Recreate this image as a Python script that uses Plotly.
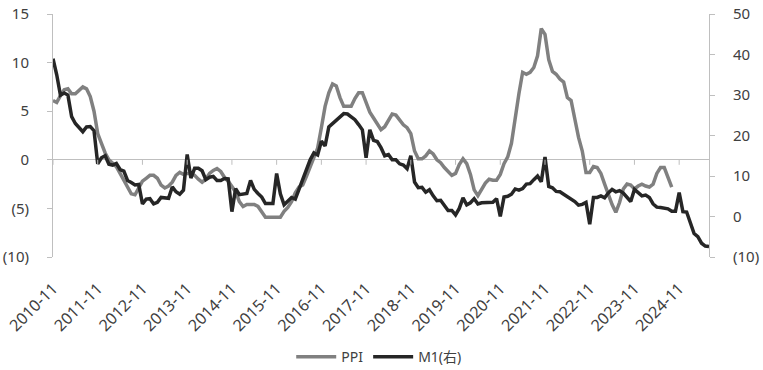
import pandas as pd
import plotly.graph_objects as go

# ---- data ----
months = list(pd.period_range("2010-11", periods=177, freq="M").strftime("%Y-%m"))

ppi = [
    6.1, 5.9,
    6.6, 7.2, 7.3, 6.8, 6.8, 7.1, 7.5, 7.3, 6.5, 5.0, 2.7, 1.7,
    0.7, 0.0, -0.3, -0.7, -1.4, -2.1, -2.9, -3.5, -3.6, -2.8, -2.2, -1.9,
    -1.6, -1.6, -1.9, -2.6, -2.9, -2.7, -2.3, -1.6, -1.3, -1.5, -1.4, -1.4,
    -1.6, -2.0, -2.3, -2.0, -1.4, -1.1, -0.9, -1.2, -1.8, -2.2, -2.7, -3.3,
    -4.3, -4.8, -4.6, -4.6, -4.6, -4.8, -5.4, -5.9, -5.9, -5.9, -5.9, -5.9,
    -5.3, -4.9, -4.3, -3.4, -2.8, -2.6, -1.7, -0.8, 0.1, 1.2, 3.3, 5.5,
    6.9, 7.8, 7.6, 6.4, 5.5, 5.5, 5.5, 6.3, 6.9, 6.9, 5.8, 4.9,
    4.3, 3.7, 3.1, 3.4, 4.1, 4.7, 4.6, 4.1, 3.6, 3.3, 2.7, 0.9,
    0.1, 0.1, 0.4, 0.9, 0.6, 0.0, -0.3, -0.8, -1.2, -1.6, -1.4, -0.5,
    0.1, -0.4, -1.5, -3.1, -3.7, -3.0, -2.4, -2.0, -2.1, -2.1, -1.5, -0.4,
    0.3, 1.7, 4.4, 6.8, 9.0, 8.8, 9.0, 9.5, 10.7, 13.5, 12.9, 10.3,
    9.1, 8.8, 8.3, 8.0, 6.4, 6.1, 4.2, 2.3, 0.9, -1.3, -1.3, -0.7,
    -0.8, -1.4, -2.5, -3.6, -4.6, -5.4, -4.4, -3.0, -2.5, -2.6, -3.0, -2.7,
    -2.5, -2.7, -2.8, -2.5, -1.4, -0.8, -0.8, -1.8, -2.8,
]

m1 = [
    38.96, 34.99, 29.94, 30.48, 29.98, 24.64, 22.97, 21.92, 20.94, 22.1, 22.2, 21.2,
    13.0, 14.5, 15.0, 12.9, 12.7, 13.1, 11.6, 11.2, 8.9, 8.4, 7.8, 7.9,
    3.1, 4.3, 4.4, 3.1, 3.5, 4.7, 4.6, 4.5, 7.3, 6.1, 5.5, 6.5,
    15.3, 9.5, 11.9, 11.9, 11.3, 9.1, 9.7, 9.9, 8.9, 8.9, 9.4, 9.3,
    1.2, 6.9, 5.4, 5.5, 5.7, 8.9, 6.7, 5.7, 4.8, 3.2, 3.2, 3.2,
    10.6, 5.6, 2.9, 3.7, 4.7, 4.3, 6.6, 9.3, 11.4, 14.0, 15.7, 15.2,
    18.6, 17.4, 22.1, 22.9, 23.7, 24.6, 25.4, 25.3, 24.7, 23.9, 22.7, 21.4,
    14.5, 21.4, 18.8, 18.5, 17.0, 15.0, 15.3, 14.0, 14.0, 13.0, 12.7, 11.8,
    15.0, 8.5, 7.1, 7.2, 6.0, 6.6, 5.1, 3.9, 4.0, 2.7, 1.5, 1.5,
    0.4, 2.0, 4.6, 2.9, 3.4, 4.4, 3.1, 3.4, 3.4, 3.3, 3.5, 4.4,
    0.0, 4.8, 5.0, 5.5, 6.8, 6.5, 6.9, 8.0, 8.1, 9.1, 10.0, 8.6,
    14.7, 7.4, 7.1, 6.2, 6.1, 5.5, 4.9, 4.2, 3.7, 2.8, 3.0, 3.5,
    -1.9, 4.7, 4.7, 5.1, 4.6, 5.8, 6.7, 6.1, 6.4, 5.8, 4.6, 3.7,
    6.7, 5.8, 5.1, 5.3, 4.7, 3.1, 2.3, 2.2, 2.1, 1.9, 1.3, 1.3,
    5.9, 1.2, 1.1, -1.4, -4.2, -5.0, -6.6, -7.3, -7.4,
]

x_ticks = months[::12]
left_vals = [-10, -5, 0, 5, 10, 15]
left_text = ["(10)", "(5)", "0", "5", "10", "15"]
right_vals = [-10, 0, 10, 20, 30, 40, 50]
right_text = ["(10)", "0", "10", "20", "30", "40", "50"]

FONT = "Noto Sans, Noto Sans CJK SC, sans-serif"
TXT = "#404040"
AX = "#bfbfbf"

fig = go.Figure()
fig.add_trace(go.Scatter(x=months[:len(ppi)], y=ppi, name="PPI", mode="lines",
                         line=dict(color="#808080", width=3.5)))
fig.add_trace(go.Scatter(x=months[:len(m1)], y=m1, name="M1(右)", mode="lines",
                         line=dict(color="#262626", width=3.5), yaxis="y2"))

# small tick marks hanging from the zero line at each labelled category
shapes = []
for i in range(0, len(months), 12):
    shapes.append(dict(type="line", xref="x", yref="y", ysizemode="pixel", yanchor=0,
                       x0=i, x1=i, y0=0, y1=-5, line=dict(color=AX, width=1)))

fig.update_layout(
    width=763, height=370,
    margin=dict(l=53, r=54, t=14, b=113, autoexpand=False),
    paper_bgcolor="white", plot_bgcolor="white",
    font=dict(family=FONT, size=14, color=TXT),
    showlegend=True,
    legend=dict(orientation="h", x=0.497, xanchor="center", xref="container",
                y=0.035, yanchor="middle", yref="container",
                font=dict(size=14, color=TXT), itemwidth=40, tracegroupgap=0),
    xaxis=dict(type="category", range=[0, len(months) - 1], tickmode="array",
               tickvals=x_ticks, ticktext=x_ticks, tickangle=-45, showgrid=False,
               showline=False, ticks="", zeroline=False, ticklabelstandoff=18,
               automargin=False, tickfont=dict(size=16, color=TXT)),
    yaxis=dict(range=[-10, 15], tickmode="array", tickvals=left_vals, ticktext=left_text,
               showgrid=False, showline=True, linecolor=AX, linewidth=1,
               ticks="outside", ticklen=5, tickcolor=AX, zeroline=True,
               zerolinecolor=AX, zerolinewidth=1, ticklabelstandoff=15, automargin=False,
               tickfont=dict(size=15, color=TXT)),
    yaxis2=dict(range=[-10, 50], tickmode="array", tickvals=right_vals, ticktext=right_text,
                overlaying="y", side="right", showgrid=False, showline=True,
                linecolor=AX, linewidth=1, ticks="outside", ticklen=5, tickcolor=AX,
                zeroline=False, ticklabelstandoff=15, automargin=False,
                tickfont=dict(size=15, color=TXT)),
    shapes=shapes,
)

fig.write_html("out.html", config={"displayModeBar": False},
               post_script="document.body.style.margin='0';document.body.style.overflow='hidden';")
